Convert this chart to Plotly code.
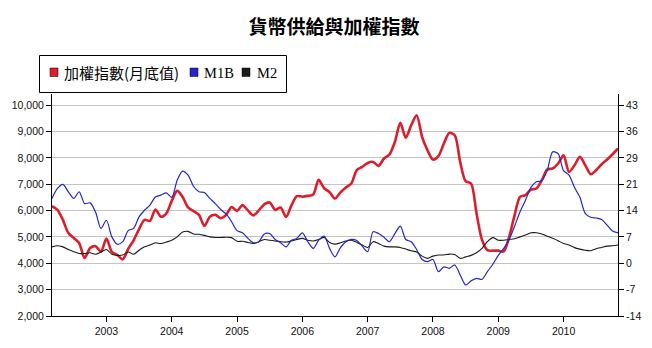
import plotly.graph_objects as go

# ---- data (monthly, Mar 2002 .. Nov 2010) ----
month_index = list(range(105))
taiex = [6170, 6030, 5650, 5150, 4960, 4760, 4200, 4580, 4650, 4440,
         4940, 4430, 4320, 4150, 4550, 4870, 5300, 5650, 5610, 6040,
         5770, 5890, 6370, 6750, 6520, 6120, 5980, 5840, 5420, 5770,
         5845, 5710, 5840, 6140, 5990, 6210, 6010, 5820, 6010, 6240,
         6310, 6030, 6120, 5760, 6200, 6550, 6530, 6560, 6610, 7170,
         6850, 6700, 6460, 6690, 6880, 7030, 7540, 7660, 7810, 7850,
         7700, 7980, 8130, 8610, 9330, 8770, 9240, 9620, 8800, 8290,
         7940, 8070, 8550, 8950, 8860, 7850, 7120, 7030, 5900, 4900,
         4500, 4480, 4480, 4450, 5000, 5830, 6520, 6590, 6800, 6840,
         7160, 7560, 7600, 7790, 8100, 7470, 7720, 8040, 7720, 7380,
         7540, 7760, 7940, 8140, 8360]
m1b = [17.8, 20.5, 21.6, 19.6, 17.8, 19.6, 16.4, 16.6, 14.1, 9.7,
       11.9, 7.4, 5.4, 6.1, 9.1, 9.7, 12.8, 14.6, 16.0, 18.2,
       18.7, 19.3, 18.1, 22.7, 25.2, 24.1, 21.1, 19.6, 19.4, 17.8,
       16.4, 14.8, 13.6, 11.5, 9.1, 8.5, 7.0, 5.8, 6.1, 8.2,
       8.3, 6.7, 5.8, 4.7, 6.5, 7.0, 8.5, 6.1, 4.3, 6.5,
       7.6, 4.3, 2.0, 4.5, 6.1, 6.7, 6.4, 4.9, 3.4, 8.8,
       8.3, 7.3, 6.1, 8.3, 10.3, 6.7, 6.1, 4.0, 1.3, 0.7,
       1.3, -2.0, -0.7, -1.1, -0.2, -2.9, -5.6, -4.5, -3.8, -4.1,
       -2.0, 0.0, 2.4, 4.3, 6.7, 10.3, 14.2, 17.3, 20.8, 22.3,
       22.6, 25.4, 30.4, 29.9, 25.3, 24.1, 20.8, 18.1, 13.7, 12.7,
       12.5, 12.1, 10.6, 9.0, 8.5]
m2 = [4.7, 5.0, 4.7, 4.0, 3.4, 2.9, 2.9, 3.1, 2.7, 3.3,
      4.0, 2.7, 2.4, 2.5, 3.3, 2.7, 3.8, 4.7, 5.2, 5.8,
      5.6, 6.0, 6.5, 7.4, 8.7, 8.9, 8.2, 8.1, 7.8, 7.4,
      7.25, 7.25, 7.3, 7.2, 6.2, 6.2, 5.9, 5.6, 6.1, 6.7,
      6.5, 6.3, 6.1, 6.0, 6.3, 6.7, 7.0, 6.5, 6.3, 6.7,
      7.25, 5.9, 5.45, 5.8, 6.3, 6.5, 5.9, 5.2, 4.55, 6.1,
      5.6, 4.9, 4.7, 4.7, 4.55, 4.1, 3.65, 3.3, 2.2, 1.6,
      2.2, 2.5, 2.5, 2.75, 2.65, 1.6, 2.0, 2.4, 3.1, 4.3,
      6.1, 7.2, 6.5, 6.5, 6.7, 6.9, 7.4, 7.9, 8.5, 8.5,
      8.2, 7.6, 7.0, 6.35, 5.6, 5.2, 4.5, 4.1, 3.8, 3.65,
      4.2, 4.55, 4.9, 5.0, 5.2]

year_tick_months = [10, 22, 34, 46, 58, 70, 82, 94]
year_labels = ["2003", "2004", "2005", "2006", "2007", "2008", "2009", "2010"]
left_ticks = [2000, 3000, 4000, 5000, 6000, 7000, 8000, 9000, 10000]
right_labels = ["-14", "-7", "0", "7", "14", "21", "29", "36", "43"]
series_names = ["加權指數(月底值)", "M1B", "M2"]
colors = ["#dc1e2a", "#2727c8", "#1a1a1a"]

W, H = 652, 348
L, R, T, B = 52, 34, 94, 32
right_min, right_max = -14, 43
right_step = (right_max - right_min) / (len(right_labels) - 1)
right_tickvals = [right_min + right_step * k for k in range(len(right_labels))]
# extend both axes slightly above the top gridline
extra = (10428 - 10000) / 1000.0

fig = go.Figure()
fig.add_trace(go.Scatter(x=month_index, y=m2, yaxis="y2", mode="lines",
                         line=dict(color=colors[2], width=1.1, shape="spline", smoothing=0.8),
                         name=series_names[2], showlegend=False))
fig.add_trace(go.Scatter(x=month_index, y=m1b, yaxis="y2", mode="lines",
                         line=dict(color=colors[1], width=1.2, shape="spline", smoothing=0.8),
                         name=series_names[1], showlegend=False))
fig.add_trace(go.Scatter(x=month_index, y=taiex, yaxis="y", mode="lines",
                         line=dict(color=colors[0], width=2.6, shape="spline", smoothing=0.8),
                         name=series_names[0], showlegend=False))

tick_font = dict(family="Liberation Sans, Arial, sans-serif", size=10.5, color="#111")

fig.update_layout(
    width=W, height=H,
    margin=dict(l=L, r=R, t=T, b=B, pad=0),
    paper_bgcolor="white", plot_bgcolor="white",
    title=dict(text="貨幣供給與加權指數", x=334 / W, xref="container", xanchor="center",
               y=1 - 27 / H, yref="container", yanchor="middle",
               font=dict(family="Noto Sans CJK TC", size=19, color="#000", weight="bold")),
    xaxis=dict(range=[0, len(month_index) - 1], tickvals=year_tick_months, ticktext=year_labels,
               showgrid=False, zeroline=False, showline=True, linecolor="#000", linewidth=1,
               ticks="outside", ticklen=5, tickcolor="#000", tickfont=tick_font),
    yaxis=dict(range=[2000, 10000 + extra * 1000], tickvals=left_ticks, tickformat=",d",
               showgrid=True, gridcolor="#c4c4c4", gridwidth=1, zeroline=False,
               showline=True, linecolor="#000", linewidth=1,
               ticks="outside", ticklen=5, tickcolor="#000", tickfont=tick_font),
    yaxis2=dict(range=[right_min, right_max + extra * right_step], overlaying="y", side="right",
                tickvals=right_tickvals, ticktext=right_labels,
                showgrid=False, zeroline=False, showline=True, linecolor="#000", linewidth=1,
                ticks="outside", ticklen=5, tickcolor="#000", tickfont=tick_font),
    showlegend=False,
)

# ---- manual legend (box, swatches, real text) ----
pw, ph = W - L - R, H - T - B


def px(xp):
    return (xp - L) / pw


def py(yp):
    return (H - B - yp) / ph


shapes = [dict(type="rect", xref="paper", yref="paper", x0=px(39.5), x1=px(286.5),
               y0=py(92.5), y1=py(55.5), line=dict(color="#000", width=1), fillcolor="white")]
swatch_x = [50, 190, 242]
text_x = [62, 202, 255]
fonts = [dict(family="Noto Sans CJK TC", size=15, color="#000"),
         dict(family="Liberation Serif, serif", size=14.5, color="#000"),
         dict(family="Liberation Serif, serif", size=14.5, color="#000")]
annotations = []
for i in range(3):
    shapes.append(dict(type="rect", xref="paper", yref="paper", x0=px(swatch_x[i]), x1=px(swatch_x[i] + 8),
                       y0=py(76.5), y1=py(68), line=dict(color="#000", width=0.5), fillcolor=colors[i]))
    annotations.append(dict(text=series_names[i], xref="paper", yref="paper", x=px(text_x[i]), y=py(72.5),
                            xanchor="left", yanchor="middle", showarrow=False, font=fonts[i]))
fig.update_layout(shapes=shapes, annotations=annotations)

fig.write_html("out.html")
